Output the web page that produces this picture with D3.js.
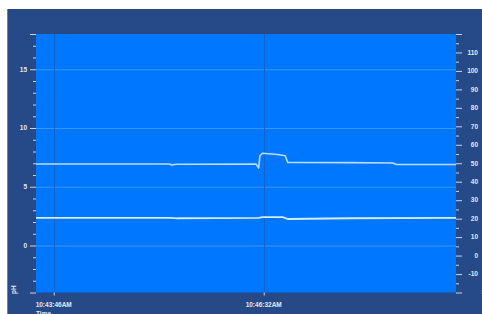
<!DOCTYPE html>
<html>
<head>
<meta charset="utf-8">
<script src="https://cdn.jsdelivr.net/npm/d3@7"></script>
<style>
  html, body { margin: 0; padding: 0; background: #fff; }
  svg { display: block; }
  text { font-family: "Liberation Sans", Arial, sans-serif; font-weight: bold; }
</style>
</head>
<body>
<svg id="chart" width="482" height="314"></svg>
<script>
// time window and tick labels
const timeDomain = ["10:43:32", "10:49:04"];
const timeTicks = ["10:43:46", "10:46:32"];

// pH series (left axis)
const phTimes = ["10:43:32", "10:45:18", "10:45:19", "10:45:23", "10:46:26", "10:46:28", "10:46:29",
                 "10:46:31", "10:46:43", "10:46:49", "10:46:51", "10:47:40", "10:48:14", "10:48:17", "10:49:04"];
const phValues = [6.93, 6.93, 6.85, 6.91, 6.93, 6.59, 7.64, 7.85, 7.75, 7.64, 7.07, 7.05, 7.02, 6.90, 6.90];

// temperature series (right axis)
const tempTimes = ["10:43:32", "10:45:18", "10:45:24", "10:46:28", "10:46:31", "10:46:47", "10:46:51", "10:47:40", "10:49:04"];
const tempValues = [20.4, 20.4, 20.2, 20.4, 20.8, 20.8, 19.8, 20.2, 20.4];

// axes
const leftDomain = [-4, 18];
const leftLabels = [0, 5, 10, 15];
const rightDomain = [-20, 120];
const rightLabels = [-10, 0, 10, 20, 30, 40, 50, 60, 70, 80, 90, 100, 110];

const parseT = d3.timeParse("%H:%M:%S");
const fmtT = d3.timeFormat("%-I:%M:%S%p");

const svg = d3.select("#chart");
const plot = { left: 36, right: 456, top: 34, bottom: 292.5 };

svg.append("rect").attr("x", 7.3).attr("y", 9).attr("width", 482).attr("height", 314).attr("fill", "#264a88");
svg.append("rect").attr("x", plot.left).attr("y", plot.top)
  .attr("width", plot.right - plot.left).attr("height", plot.bottom - plot.top).attr("fill", "#0077ff");

const x = d3.scaleTime().domain(timeDomain.map(parseT)).range([plot.left, plot.right]);
const yL = d3.scaleLinear().domain(leftDomain).range([plot.bottom, plot.top]);
const yR = d3.scaleLinear().domain(rightDomain).range([plot.bottom, plot.top]);

// grid
svg.append("g").selectAll("line").data(leftLabels).join("line")
  .attr("x1", plot.left).attr("x2", plot.right)
  .attr("y1", d => yL(d) + 0.5).attr("y2", d => yL(d) + 0.5)
  .attr("stroke", "#3a96ff").attr("stroke-width", 1);
svg.append("g").selectAll("line").data(timeTicks.map(parseT)).join("line")
  .attr("x1", d => Math.round(x(d)) + 0.5).attr("x2", d => Math.round(x(d)) + 0.5)
  .attr("y1", plot.top).attr("y2", plot.bottom)
  .attr("stroke", "#1563c8").attr("stroke-width", 1);

// series
const phLine = d3.line().x((d, i) => x(parseT(phTimes[i]))).y(d => yL(d));
const tempLine = d3.line().x((d, i) => x(parseT(tempTimes[i]))).y(d => yR(d));
svg.append("path").attr("d", phLine(phValues)).attr("fill", "none")
  .attr("stroke", "#b9dcff").attr("stroke-width", 1.6).attr("stroke-linejoin", "round");
svg.append("path").attr("d", tempLine(tempValues)).attr("fill", "none")
  .attr("stroke", "#d6ecff").attr("stroke-width", 1.8).attr("stroke-linejoin", "round");

// left axis
const gl = svg.append("g").attr("transform", `translate(${plot.left},0)`);
gl.call(d3.axisLeft(yL).tickValues(d3.range(leftDomain[0], leftDomain[1] + 1, 1))
  .tickSize(3).tickFormat(""));
gl.call(g => g.selectAll(".tick line")
  .attr("x2", d => (leftLabels.includes(d) || d === leftDomain[0] || d === leftDomain[1]) ? -6 : -3));
gl.selectAll(".domain").remove();
gl.selectAll(".tick line").attr("stroke", "#c9d3e6");
gl.selectAll(".lbl").data(leftLabels).join("text")
  .attr("x", -9).attr("y", d => yL(d)).attr("dy", "0.35em")
  .attr("text-anchor", "end").attr("font-size", 6.5).attr("fill", "#e3e8f2").text(d => d);

// right axis
const gr = svg.append("g").attr("transform", `translate(${plot.right},0)`);
gr.call(d3.axisRight(yR).tickValues(d3.range(rightDomain[0], rightDomain[1] + 1, 5))
  .tickSize(3).tickFormat(""));
gr.call(g => g.selectAll(".tick line").attr("x2", d => d % 10 === 0 ? 6 : 3));
gr.selectAll(".domain").remove();
gr.selectAll(".tick line").attr("stroke", "#c9d3e6");
gr.selectAll(".lbl").data(rightLabels).join("text")
  .attr("x", 22).attr("y", d => yR(d)).attr("dy", "0.35em")
  .attr("text-anchor", "end").attr("font-size", 6.5).attr("fill", "#e3e8f2").text(d => d);

// bottom axis
const gb = svg.append("g").attr("transform", `translate(0,${plot.bottom})`);
gb.call(d3.axisBottom(x).tickValues(timeTicks.map(parseT)).tickSize(3).tickFormat(""));
gb.selectAll(".domain").remove();
gb.selectAll(".tick line").attr("stroke", "#c9d3e6");
gb.selectAll(".lbl").data(timeTicks.map(parseT)).join("text")
  .attr("x", d => x(d)).attr("y", 14).attr("text-anchor", "middle")
  .attr("font-size", 6.5).attr("fill", "#e3e8f2").text(d => fmtT(d));

// axis titles
svg.append("text").attr("x", plot.left).attr("y", 315.5).attr("font-size", 6.5)
  .attr("fill", "#e3e8f2").text("Time");
svg.append("text").attr("transform", "translate(16,294) rotate(-90)")
  .attr("font-size", 6.5).attr("fill", "#e3e8f2").text("pH");
svg.append("text").attr("transform", "translate(487,294) rotate(-90)")
  .attr("font-size", 6.5).attr("fill", "#e3e8f2").text("Temp");
</script>
</body>
</html>
